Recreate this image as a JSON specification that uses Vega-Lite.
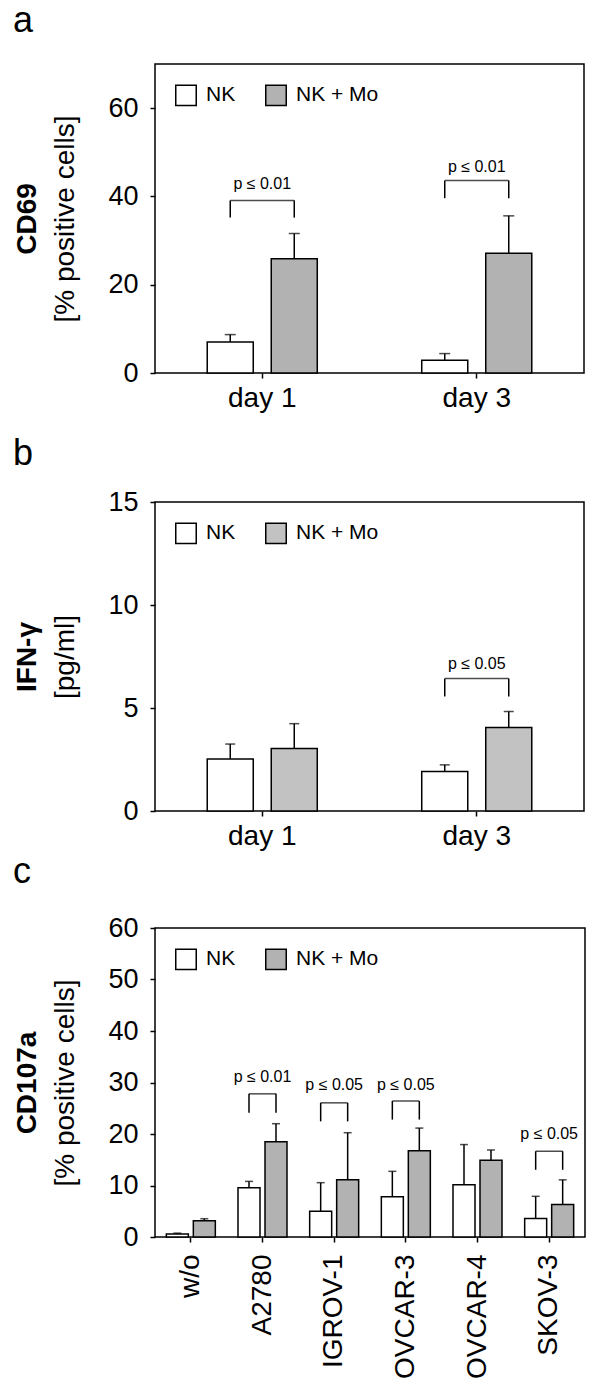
{
  "$schema": "https://vega.github.io/schema/vega-lite/v6.json",
  "padding": {"left": 12, "top": 2, "right": 0, "bottom": 0},
  "background": "white",
  "datasets": {
    "a_bars": [
      {"cat": "day 1", "grp": "NK", "v": 7.0, "hi": 8.7},
      {"cat": "day 1", "grp": "NK + Mo", "v": 25.9, "hi": 31.6},
      {"cat": "day 3", "grp": "NK", "v": 2.9, "hi": 4.4},
      {"cat": "day 3", "grp": "NK + Mo", "v": 27.1, "hi": 35.6}
    ],
    "a_sig": [
      {"cat": "day 1", "top": 39.1, "ty": 42.8, "p": "p ≤ 0.01"},
      {"cat": "day 3", "top": 43.6, "ty": 46.7, "p": "p ≤ 0.01"}
    ],
    "a_legs": [
      {"cat": "day 1", "grp": "NK", "top": 39.1, "leg": 35.2},
      {"cat": "day 1", "grp": "NK + Mo", "top": 39.1, "leg": 35.2},
      {"cat": "day 3", "grp": "NK", "top": 43.6, "leg": 39.6},
      {"cat": "day 3", "grp": "NK + Mo", "top": 43.6, "leg": 39.6}
    ],
    "b_bars": [
      {"cat": "day 1", "grp": "NK", "v": 2.52, "hi": 3.25},
      {"cat": "day 1", "grp": "NK + Mo", "v": 3.04, "hi": 4.24},
      {"cat": "day 3", "grp": "NK", "v": 1.92, "hi": 2.24},
      {"cat": "day 3", "grp": "NK + Mo", "v": 4.05, "hi": 4.83}
    ],
    "b_sig": [
      {"cat": "day 3", "top": 6.43, "ty": 7.12, "p": "p ≤ 0.05"}
    ],
    "b_legs": [
      {"cat": "day 3", "grp": "NK", "top": 6.43, "leg": 5.56},
      {"cat": "day 3", "grp": "NK + Mo", "top": 6.43, "leg": 5.56}
    ],
    "c_bars": [
      {"cat": "w/o", "grp": "NK", "v": 0.6, "hi": 0.75},
      {"cat": "w/o", "grp": "NK + Mo", "v": 3.15, "hi": 3.55},
      {"cat": "A2780", "grp": "NK", "v": 9.55, "hi": 10.8},
      {"cat": "A2780", "grp": "NK + Mo", "v": 18.5, "hi": 22.0},
      {"cat": "IGROV-1", "grp": "NK", "v": 5.0, "hi": 10.55},
      {"cat": "IGROV-1", "grp": "NK + Mo", "v": 11.1, "hi": 20.25},
      {"cat": "OVCAR-3", "grp": "NK", "v": 7.8, "hi": 12.75},
      {"cat": "OVCAR-3", "grp": "NK + Mo", "v": 16.75, "hi": 21.15},
      {"cat": "OVCAR-4", "grp": "NK", "v": 10.15, "hi": 17.95},
      {"cat": "OVCAR-4", "grp": "NK + Mo", "v": 14.9, "hi": 16.9},
      {"cat": "SKOV-3", "grp": "NK", "v": 3.6, "hi": 7.9},
      {"cat": "SKOV-3", "grp": "NK + Mo", "v": 6.3, "hi": 11.1}
    ],
    "c_sig": [
      {"cat": "A2780", "top": 27.8, "ty": 31.1, "p": "p ≤ 0.01"},
      {"cat": "IGROV-1", "top": 26.05, "ty": 29.5, "p": "p ≤ 0.05"},
      {"cat": "OVCAR-3", "top": 26.4, "ty": 29.6, "p": "p ≤ 0.05"},
      {"cat": "SKOV-3", "top": 16.65, "ty": 20.05, "p": "p ≤ 0.05"}
    ],
    "c_legs": [
      {"cat": "A2780", "grp": "NK", "top": 27.8, "leg": 24.15},
      {"cat": "A2780", "grp": "NK + Mo", "top": 27.8, "leg": 24.15},
      {"cat": "IGROV-1", "grp": "NK", "top": 26.05, "leg": 22.45},
      {"cat": "IGROV-1", "grp": "NK + Mo", "top": 26.05, "leg": 22.45},
      {"cat": "OVCAR-3", "grp": "NK", "top": 26.4, "leg": 22.8},
      {"cat": "OVCAR-3", "grp": "NK + Mo", "top": 26.4, "leg": 22.8},
      {"cat": "SKOV-3", "grp": "NK", "top": 16.65, "leg": 13.05},
      {"cat": "SKOV-3", "grp": "NK + Mo", "top": 16.65, "leg": 13.05}
    ]
  },
  "config": {
    "font": "Liberation Sans",
    "view": {"stroke": "black", "strokeWidth": 1.5},
    "axis": {
      "grid": false, "domain": false, "tickColor": "black", "tickWidth": 1.5, "tickSize": 5,
      "labelColor": "black", "titleColor": "black", "labelFont": "Liberation Sans", "titleFont": "Liberation Sans",
      "labelFontSize": 27, "titleFontSize": 28, "titleFontWeight": "normal"
    },
    "legend": {
      "orient": "top-left", "direction": "horizontal", "symbolType": "square", "symbolSize": 420,
      "symbolStrokeColor": "black", "symbolStrokeWidth": 1.5, "labelFontSize": 21, "labelColor": "black",
      "labelFont": "Liberation Sans", "labelOffset": 9, "columnPadding": 26, "offset": 20, "padding": 0
    },
    "title": {"fontSize": 36, "fontWeight": "normal", "anchor": "start", "frame": "bounds", "color": "black", "font": "Liberation Sans"}
  },
  "spacing": 2,
  "resolve": {"scale": {"x": "independent", "y": "independent", "color": "independent", "xOffset": "independent"}, "legend": {"color": "independent"}},
  "vconcat": [
    {
      "title": {"text": "a", "offset": 24},
      "width": 429, "height": 309,
      "resolve": {"axis": {"y": "independent"}},
      "layer": [
        {
          "data": {"name": "a_bars"},
          "mark": {"type": "bar", "stroke": "black", "strokeWidth": 1.5},
          "encoding": {
            "x": {"field": "cat", "type": "nominal", "scale": {"domain": ["day 1", "day 3"], "paddingInner": 0, "paddingOuter": 0}, "axis": {"title": null, "labelAngle": 0, "labelPadding": 6, "labelFontSize": 28, "minExtent": 59}},
            "xOffset": {"field": "grp", "type": "nominal", "scale": {"domain": ["NK", "NK + Mo"], "paddingInner": 0.281, "paddingOuter": 0.816}},
            "y": {"field": "v", "type": "quantitative", "scale": {"domain": [0, 70], "nice": false}, "axis": {"values": [0, 20, 40, 60], "title": "[% positive cells]", "labelPadding": 12, "titlePadding": 28}},
            "color": {"field": "grp", "type": "nominal", "scale": {"domain": ["NK", "NK + Mo"], "range": ["#ffffff", "#b2b2b2"]}, "legend": {"title": null}}
          }
        },
        {
          "data": {"name": "a_bars"},
          "mark": {"type": "rule", "color": "black", "strokeWidth": 1.5},
          "encoding": {
            "x": {"field": "cat", "type": "nominal"},
            "xOffset": {"field": "grp", "type": "nominal"},
            "y": {"field": "hi", "type": "quantitative", "axis": {"title": "CD69", "orient": "left", "labels": false, "ticks": false, "domain": false, "titleFontWeight": "bold", "titlePadding": 114, "minExtent": 0}},
            "y2": {"field": "v"}
          }
        },
        {
          "data": {"name": "a_bars"},
          "mark": {"type": "tick", "color": "black", "thickness": 1.5, "size": 11, "orient": "horizontal"},
          "encoding": {
            "x": {"field": "cat", "type": "nominal"},
            "xOffset": {"field": "grp", "type": "nominal"},
            "y": {"field": "hi", "type": "quantitative", "axis": null}
          }
        },
        {
          "data": {"name": "a_legs"},
          "mark": {"type": "rule", "color": "black", "strokeWidth": 1.5},
          "encoding": {
            "x": {"field": "cat", "type": "nominal"},
            "xOffset": {"field": "grp", "type": "nominal"},
            "y": {"field": "top", "type": "quantitative", "axis": null},
            "y2": {"field": "leg"}
          }
        },
        {
          "data": {"name": "a_sig"},
          "mark": {"type": "tick", "color": "black", "thickness": 1.5, "size": 64, "orient": "horizontal"},
          "encoding": {
            "x": {"field": "cat", "type": "nominal"},
            "y": {"field": "top", "type": "quantitative", "axis": null}
          }
        },
        {
          "data": {"name": "a_sig"},
          "mark": {"type": "text", "fontSize": 16, "baseline": "middle", "color": "black"},
          "encoding": {
            "x": {"field": "cat", "type": "nominal"},
            "y": {"field": "ty", "type": "quantitative", "axis": null},
            "text": {"field": "p"}
          }
        }
      ]
    },
    {
      "title": {"text": "b", "offset": 15},
      "width": 429, "height": 309,
      "resolve": {"axis": {"y": "independent"}},
      "layer": [
        {
          "data": {"name": "b_bars"},
          "mark": {"type": "bar", "stroke": "black", "strokeWidth": 1.5},
          "encoding": {
            "x": {"field": "cat", "type": "nominal", "scale": {"domain": ["day 1", "day 3"], "paddingInner": 0, "paddingOuter": 0}, "axis": {"title": null, "labelAngle": 0, "labelPadding": 6, "labelFontSize": 28}},
            "xOffset": {"field": "grp", "type": "nominal", "scale": {"domain": ["NK", "NK + Mo"], "paddingInner": 0.281, "paddingOuter": 0.816}},
            "y": {"field": "v", "type": "quantitative", "scale": {"domain": [0, 15], "nice": false}, "axis": {"values": [0, 5, 10, 15], "title": "[pg/ml]", "labelPadding": 12, "titlePadding": 28}},
            "color": {"field": "grp", "type": "nominal", "scale": {"domain": ["NK", "NK + Mo"], "range": ["#ffffff", "#c2c2c2"]}, "legend": {"title": null}}
          }
        },
        {
          "data": {"name": "b_bars"},
          "mark": {"type": "rule", "color": "black", "strokeWidth": 1.5},
          "encoding": {
            "x": {"field": "cat", "type": "nominal"},
            "xOffset": {"field": "grp", "type": "nominal"},
            "y": {"field": "hi", "type": "quantitative", "axis": {"title": "IFN-γ", "orient": "left", "labels": false, "ticks": false, "domain": false, "titleFontWeight": "bold", "titlePadding": 114, "minExtent": 0}},
            "y2": {"field": "v"}
          }
        },
        {
          "data": {"name": "b_bars"},
          "mark": {"type": "tick", "color": "black", "thickness": 1.5, "size": 10, "orient": "horizontal"},
          "encoding": {
            "x": {"field": "cat", "type": "nominal"},
            "xOffset": {"field": "grp", "type": "nominal"},
            "y": {"field": "hi", "type": "quantitative", "axis": null}
          }
        },
        {
          "data": {"name": "b_legs"},
          "mark": {"type": "rule", "color": "black", "strokeWidth": 1.5},
          "encoding": {
            "x": {"field": "cat", "type": "nominal"},
            "xOffset": {"field": "grp", "type": "nominal"},
            "y": {"field": "top", "type": "quantitative", "axis": null},
            "y2": {"field": "leg"}
          }
        },
        {
          "data": {"name": "b_sig"},
          "mark": {"type": "tick", "color": "black", "thickness": 1.5, "size": 64, "orient": "horizontal"},
          "encoding": {
            "x": {"field": "cat", "type": "nominal"},
            "y": {"field": "top", "type": "quantitative", "axis": null}
          }
        },
        {
          "data": {"name": "b_sig"},
          "mark": {"type": "text", "fontSize": 16, "baseline": "middle", "color": "black"},
          "encoding": {
            "x": {"field": "cat", "type": "nominal"},
            "y": {"field": "ty", "type": "quantitative", "axis": null},
            "text": {"field": "p"}
          }
        }
      ]
    },
    {
      "title": {"text": "c", "offset": 23},
      "width": 430, "height": 309,
      "resolve": {"axis": {"y": "independent"}},
      "layer": [
        {
          "data": {"name": "c_bars"},
          "mark": {"type": "bar", "stroke": "black", "strokeWidth": 1.5},
          "encoding": {
            "x": {"field": "cat", "type": "nominal", "scale": {"domain": ["w/o", "A2780", "IGROV-1", "OVCAR-3", "OVCAR-4", "SKOV-3"], "paddingInner": 0, "paddingOuter": 0}, "axis": {"title": null, "labelAngle": -90, "labelPadding": 12, "labelFontSize": 28}},
            "xOffset": {"field": "grp", "type": "nominal", "scale": {"domain": ["NK", "NK + Mo"], "paddingInner": 0.185, "paddingOuter": 0.42}},
            "y": {"field": "v", "type": "quantitative", "scale": {"domain": [0, 60], "nice": false}, "axis": {"values": [0, 10, 20, 30, 40, 50, 60], "title": "[% positive cells]", "labelPadding": 12, "titlePadding": 28}},
            "color": {"field": "grp", "type": "nominal", "scale": {"domain": ["NK", "NK + Mo"], "range": ["#ffffff", "#b2b2b2"]}, "legend": {"title": null}}
          }
        },
        {
          "data": {"name": "c_bars"},
          "mark": {"type": "rule", "color": "black", "strokeWidth": 1.5},
          "encoding": {
            "x": {"field": "cat", "type": "nominal"},
            "xOffset": {"field": "grp", "type": "nominal"},
            "y": {"field": "hi", "type": "quantitative", "axis": {"title": "CD107a", "orient": "left", "labels": false, "ticks": false, "domain": false, "titleFontWeight": "bold", "titlePadding": 114, "minExtent": 0}},
            "y2": {"field": "v"}
          }
        },
        {
          "data": {"name": "c_bars"},
          "mark": {"type": "tick", "color": "black", "thickness": 1.5, "size": 8, "orient": "horizontal"},
          "encoding": {
            "x": {"field": "cat", "type": "nominal"},
            "xOffset": {"field": "grp", "type": "nominal"},
            "y": {"field": "hi", "type": "quantitative", "axis": null}
          }
        },
        {
          "data": {"name": "c_legs"},
          "mark": {"type": "rule", "color": "black", "strokeWidth": 1.5},
          "encoding": {
            "x": {"field": "cat", "type": "nominal"},
            "xOffset": {"field": "grp", "type": "nominal"},
            "y": {"field": "top", "type": "quantitative", "axis": null},
            "y2": {"field": "leg"}
          }
        },
        {
          "data": {"name": "c_sig"},
          "mark": {"type": "tick", "color": "black", "thickness": 1.5, "size": 27, "orient": "horizontal"},
          "encoding": {
            "x": {"field": "cat", "type": "nominal"},
            "y": {"field": "top", "type": "quantitative", "axis": null}
          }
        },
        {
          "data": {"name": "c_sig"},
          "mark": {"type": "text", "fontSize": 16, "baseline": "middle", "color": "black"},
          "encoding": {
            "x": {"field": "cat", "type": "nominal"},
            "y": {"field": "ty", "type": "quantitative", "axis": null},
            "text": {"field": "p"}
          }
        }
      ]
    }
  ]
}
